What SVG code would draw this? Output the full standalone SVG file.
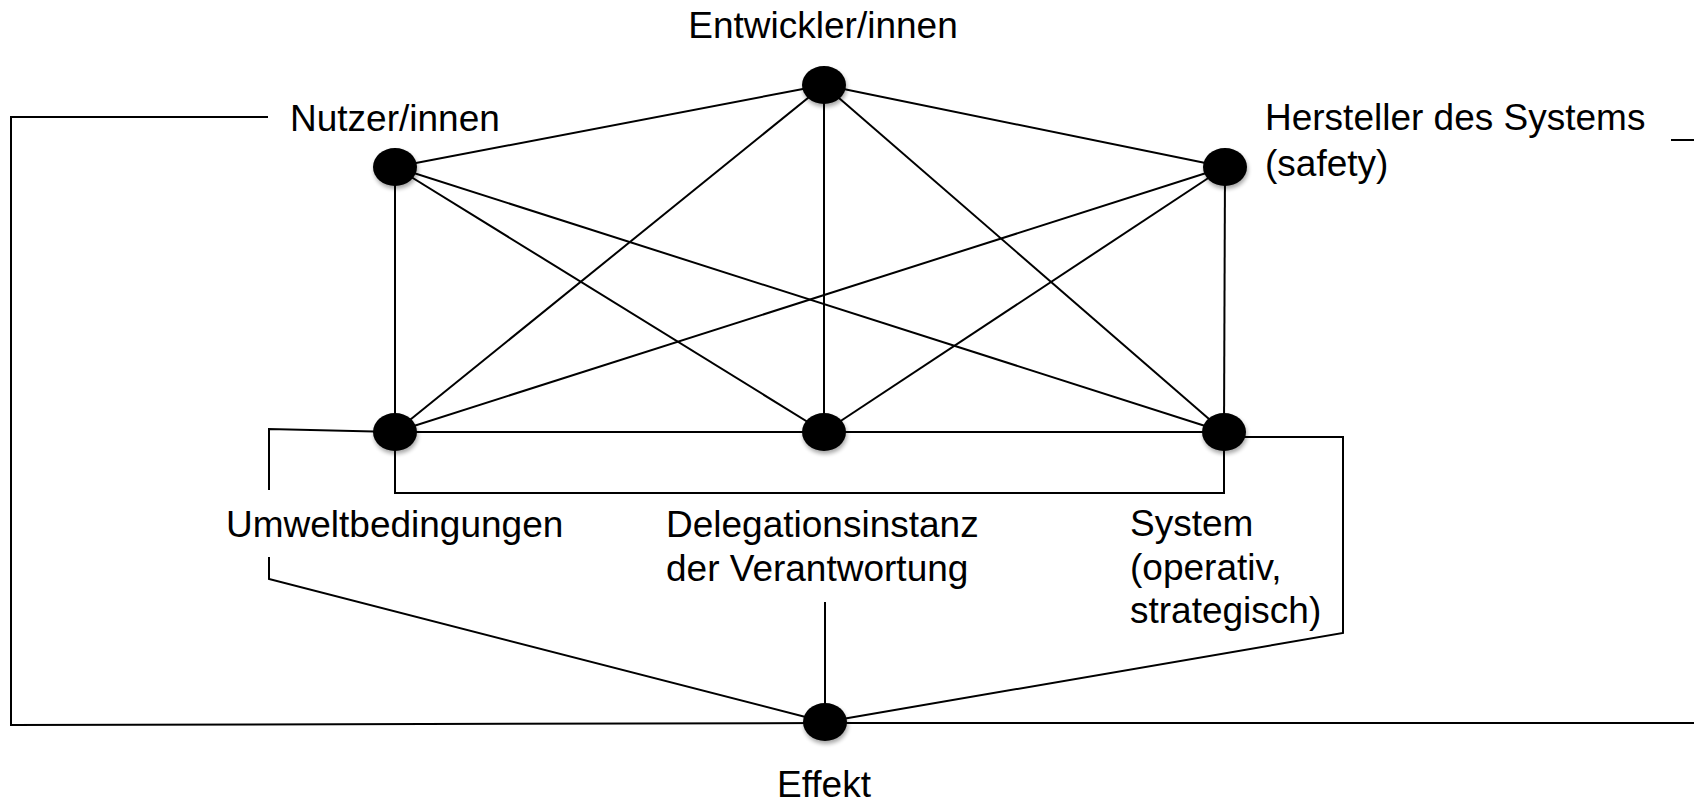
<svg xmlns="http://www.w3.org/2000/svg" width="1694" height="806" viewBox="0 0 1694 806">
<style>
.t{font-family:"Liberation Sans",Arial,Helvetica,sans-serif;font-size:37px;fill:#000}
.e{stroke:#000;stroke-width:2;fill:none}
.n{fill:#000;filter:url(#sh)}
</style>
<defs>
<filter id="sh" x="-50%" y="-50%" width="200%" height="200%">
<feGaussianBlur in="SourceAlpha" stdDeviation="2"/>
<feOffset dx="1" dy="3" result="b"/>
<feComponentTransfer><feFuncA type="linear" slope="0.35"/></feComponentTransfer>
<feMerge><feMergeNode/><feMergeNode in="SourceGraphic"/></feMerge>
</filter>
</defs>
<rect width="1694" height="806" fill="#fff"/>
<g id="connectors" class="e">
<line x1="395" y1="167" x2="824" y2="85"/>
<line x1="824" y1="85" x2="1225" y2="167"/>
<line x1="395" y1="167" x2="395" y2="432"/>
<line x1="395" y1="167" x2="824" y2="432"/>
<line x1="395" y1="167" x2="1224" y2="432"/>
<line x1="824" y1="85" x2="395" y2="432"/>
<line x1="824" y1="85" x2="824" y2="432"/>
<line x1="824" y1="85" x2="1224" y2="432"/>
<line x1="1225" y1="167" x2="395" y2="432"/>
<line x1="1225" y1="167" x2="824" y2="432"/>
<line x1="1225" y1="167" x2="1224" y2="432"/>
<line x1="395" y1="432" x2="1224" y2="432"/>
<polyline points="268,117 11,117 11,725 825,723 1694,723"/>
<line x1="1671" y1="140" x2="1694" y2="140"/>
<polyline points="395,432 269,429 269,490"/>
<polyline points="269,557 269,579 825,722"/>
<polyline points="395,432 395,493 1224,493 1224,432"/>
<polyline points="1224,437 1343,437 1343,633 825,722"/>
<line x1="825" y1="602" x2="825" y2="722"/>
</g>
<g id="node-entwickler"><ellipse class="n" cx="824" cy="85" rx="22" ry="19"/><text class="t" x="823" y="38" text-anchor="middle">Entwickler/innen</text></g>
<g id="node-nutzer"><ellipse class="n" cx="395" cy="167" rx="22" ry="19"/><text class="t" x="290" y="131">Nutzer/innen</text></g>
<g id="node-hersteller"><ellipse class="n" cx="1225" cy="167" rx="22" ry="19"/><text class="t" x="1265" y="130">Hersteller des Systems</text><text class="t" x="1265" y="176">(safety)</text></g>
<g id="node-umwelt"><ellipse class="n" cx="395" cy="432" rx="22" ry="19"/><text class="t" x="226" y="537">Umweltbedingungen</text></g>
<g id="node-delegation"><ellipse class="n" cx="824" cy="432" rx="22" ry="19"/><text class="t" x="666" y="537">Delegationsinstanz</text><text class="t" x="666" y="581">der Verantwortung</text></g>
<g id="node-system"><ellipse class="n" cx="1224" cy="432" rx="22" ry="19"/><text class="t" x="1130" y="536">System</text><text class="t" x="1130" y="580">(operativ,</text><text class="t" x="1130" y="623">strategisch)</text></g>
<g id="node-effekt"><ellipse class="n" cx="825" cy="722" rx="22" ry="19"/><text class="t" x="824" y="797" text-anchor="middle">Effekt</text></g>
</svg>
